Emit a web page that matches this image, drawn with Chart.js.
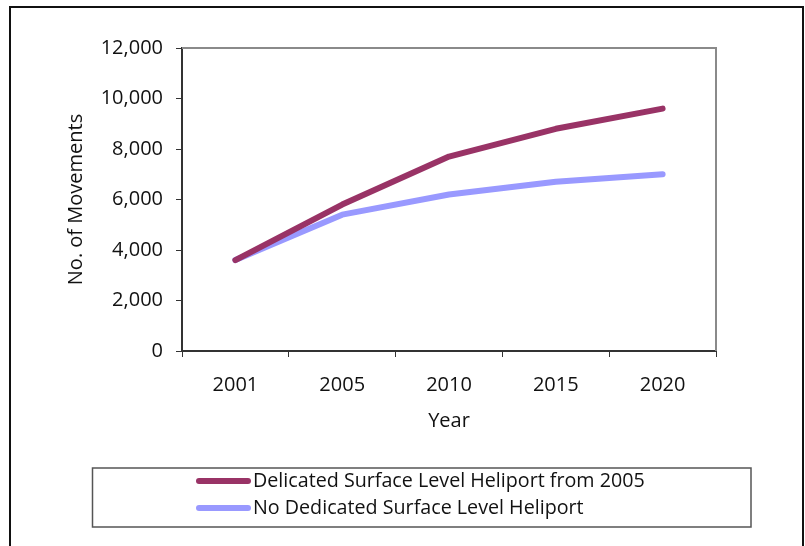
<!DOCTYPE html>
<html>
<head>
<meta charset="utf-8">
<script src="https://cdn.jsdelivr.net/npm/chart.js@4.4.1/dist/chart.umd.min.js"></script>
<style>
  html, body { margin: 0; padding: 0; background: #ffffff; }
  #wrap { width: 805px; height: 546px; position: relative; }
</style>
</head>
<body>
<div id="wrap"><canvas id="chart" width="805" height="546"></canvas></div>
<script>
// Helicopter movement forecasts
const years = ['2001', '2005', '2010', '2015', '2020'];
const withHeliport = [3600, 5800, 7700, 8800, 9600];
const withoutHeliport = [3600, 5400, 6200, 6700, 7000];
const seriesNames = [
  'Delicated Surface Level Heliport from 2005',
  'No Dedicated Surface Level Heliport'
];
const yTicks = [0, 2000, 4000, 6000, 8000, 10000, 12000];

const FONT = '"Open Sans", "Liberation Sans", sans-serif';
const AXIS = '#333333';
const TEXT = '#111111';

// Outer frame, grey top/right edges of the plot, and the boxed legend
const decor = {
  id: 'decor',
  afterDraw(chart) {
    const ctx = chart.ctx;
    const a = chart.chartArea;
    ctx.save();
    // outer frame
    ctx.strokeStyle = '#111111';
    ctx.lineWidth = 2;
    ctx.strokeRect(10, 7, 793, 560);
    // plot box top and right edges
    ctx.strokeStyle = '#8a8a8a';
    ctx.lineWidth = 2;
    ctx.beginPath();
    ctx.moveTo(a.left, a.top);
    ctx.lineTo(a.right, a.top);
    ctx.lineTo(a.right, a.bottom);
    ctx.stroke();
    // legend box
    ctx.strokeStyle = '#555555';
    ctx.lineWidth = 1.5;
    ctx.strokeRect(92.5, 468, 658.5, 59);
    const rows = [481, 508];
    chart.data.datasets.forEach((ds, i) => {
      const y = rows[i];
      ctx.strokeStyle = ds.borderColor;
      ctx.lineWidth = 6;
      ctx.lineCap = 'round';
      ctx.beginPath();
      ctx.moveTo(199, y);
      ctx.lineTo(248, y);
      ctx.stroke();
      ctx.fillStyle = TEXT;
      ctx.font = '19.7px ' + FONT;
      ctx.textAlign = 'left';
      ctx.textBaseline = 'middle';
      ctx.fillText(ds.label, 253, y);
    });
    ctx.restore();
  }
};

new Chart(document.getElementById('chart'), {
  type: 'line',
  data: {
    labels: years,
    datasets: [
      {
        label: seriesNames[0],
        data: withHeliport,
        borderColor: '#993366',
        backgroundColor: '#993366',
        borderWidth: 6,
        borderCapStyle: 'round',
        borderJoinStyle: 'round',
        pointRadius: 0,
        tension: 0
      },
      {
        label: seriesNames[1],
        data: withoutHeliport,
        borderColor: '#9999ff',
        backgroundColor: '#9999ff',
        borderWidth: 6,
        borderCapStyle: 'round',
        borderJoinStyle: 'round',
        pointRadius: 0,
        tension: 0
      }
    ]
  },
  options: {
    responsive: false,
    animation: false,
    devicePixelRatio: 1,
    layout: { padding: { left: 64, top: 48, right: 89, bottom: 113 } },
    plugins: {
      legend: { display: false },
      tooltip: { enabled: false }
    },
    scales: {
      x: {
        offset: true,
        afterFit(scale) { scale.height = 82; },
        border: { color: AXIS, width: 2 },
        grid: { offset: true, drawOnChartArea: false, drawTicks: true, tickLength: 6, color: AXIS, lineWidth: 1 },
        ticks: { color: TEXT, font: { family: FONT, size: 20 }, padding: 16 },
        title: { display: true, text: 'Year', color: TEXT, font: { family: FONT, size: 20 }, padding: 0 }
      },
      y: {
        min: 0,
        max: 12000,
        afterFit(scale) { scale.width = 182 - 64; },
        afterBuildTicks(scale) { scale.ticks = yTicks.map(v => ({ value: v })); },
        border: { color: AXIS, width: 2 },
        grid: { drawOnChartArea: false, drawTicks: true, tickLength: 6, color: AXIS, lineWidth: 1 },
        ticks: {
          color: TEXT,
          font: { family: FONT, size: 20 },
          padding: 13,
          callback: v => v.toLocaleString('en-US')
        },
        title: { display: true, text: 'No. of Movements', color: TEXT, font: { family: FONT, size: 20 }, padding: 0 }
      }
    }
  },
  plugins: [decor]
});
</script>
</body>
</html>
